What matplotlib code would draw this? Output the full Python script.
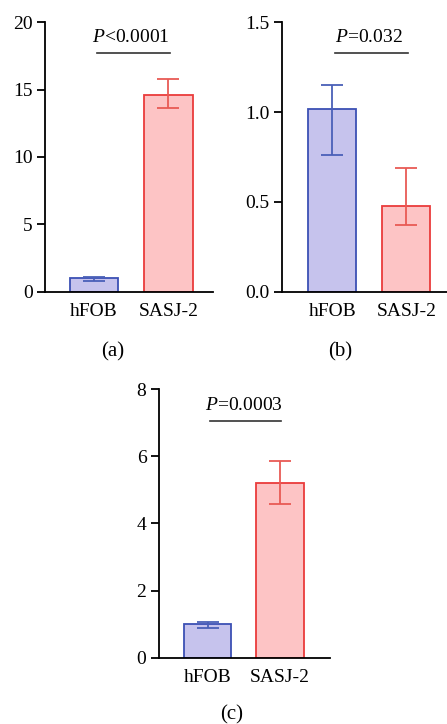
import matplotlib
matplotlib.use("Agg")
import matplotlib.pyplot as plt

plt.rcParams['font.family'] = ['Liberation Serif', 'DejaVu Serif']
plt.rcParams['mathtext.fontset'] = 'custom'
plt.rcParams['mathtext.rm'] = 'Liberation Serif'
plt.rcParams['mathtext.it'] = 'Liberation Serif:italic'

groups = ['hFOB', 'SASJ-2']

a_means = [1.0, 14.6]
a_low = [0.8, 13.6]
a_high = [1.1, 15.8]

b_means = [1.015, 0.48]
b_low = [0.76, 0.37]
b_high = [1.15, 0.69]

c_means = [1.0, 5.2]
c_low = [0.88, 4.58]
c_high = [1.08, 5.85]

p_texts = [r'$\it{P}$<0.0001', r'$\it{P}$=0.032', r'$\it{P}$=0.0003']
panel_labels = ['(a)', '(b)', '(c)']

fill_colors = ['#c6c3ed', '#fdc4c5']
edge_colors = ['#3c50b4', '#ea3b3b']
err_colors = ['#4a60b8', '#e85a55']

fig = plt.figure(figsize=(4.47, 7.24), dpi=100)

panels = [
    # rect, means, low, high, ylim, yticks, ticklabels, bracket y, xlim, label x/y (fig px)
    ([0.1007, 0.5967, 0.3758, 0.3729], a_means, a_low, a_high, 20, [0, 5, 10, 15, 20],
     ['0', '5', '10', '15', '20'], 17.7, (-0.66, 1.6), (113, 352)),
    ([0.6309, 0.5967, 0.3691, 0.3729], b_means, b_low, b_high, 1.5, [0.0, 0.5, 1.0, 1.5],
     ['0.0', '0.5', '1.0', '1.5'], 1.33, (-0.68, 1.55), (340, 352)),
    ([0.3557, 0.0912, 0.3826, 0.3715], c_means, c_low, c_high, 8, [0, 2, 4, 6, 8],
     ['0', '2', '4', '6', '8'], 7.05, (-0.67, 1.69), (232, 715)),
]

for i, (rect, means, low, high, ymax, ticks, tlabels, by, xlim, lab) in enumerate(panels):
    ax = fig.add_axes(rect)
    x = [0, 1]
    ax.bar(x, means, width=0.65, color=fill_colors, edgecolor=edge_colors, linewidth=1.3, zorder=2)
    for j in range(2):
        ax.errorbar(x[j], means[j], yerr=[[means[j] - low[j]], [high[j] - means[j]]],
                    fmt='none', ecolor=err_colors[j], elinewidth=1.3, capsize=8,
                    capthick=1.3, zorder=3)
    ax.set_xlim(*xlim)
    ax.set_ylim(0, ymax)
    ax.set_yticks(ticks)
    ax.set_yticklabels(tlabels)
    ax.set_xticks(x)
    ax.set_xticklabels(groups)
    ax.tick_params(axis='x', length=0, pad=8, labelsize=14)
    ax.tick_params(axis='y', length=6, width=1.3, labelsize=14, pad=3)
    for s in ['top', 'right']:
        ax.spines[s].set_visible(False)
    for s in ['left', 'bottom']:
        ax.spines[s].set_linewidth(1.3)
    ax.plot([0.04, 1.02], [by, by], color='#333333', linewidth=1.2, clip_on=False)
    ax.text(0.5, by + ymax * 0.025, p_texts[i], ha='center', va='bottom', fontsize=14)
    fig.text(lab[0] / 447, 1 - lab[1] / 724, panel_labels[i], ha='center', va='center', fontsize=15)

fig.savefig('out.png', dpi=100)
